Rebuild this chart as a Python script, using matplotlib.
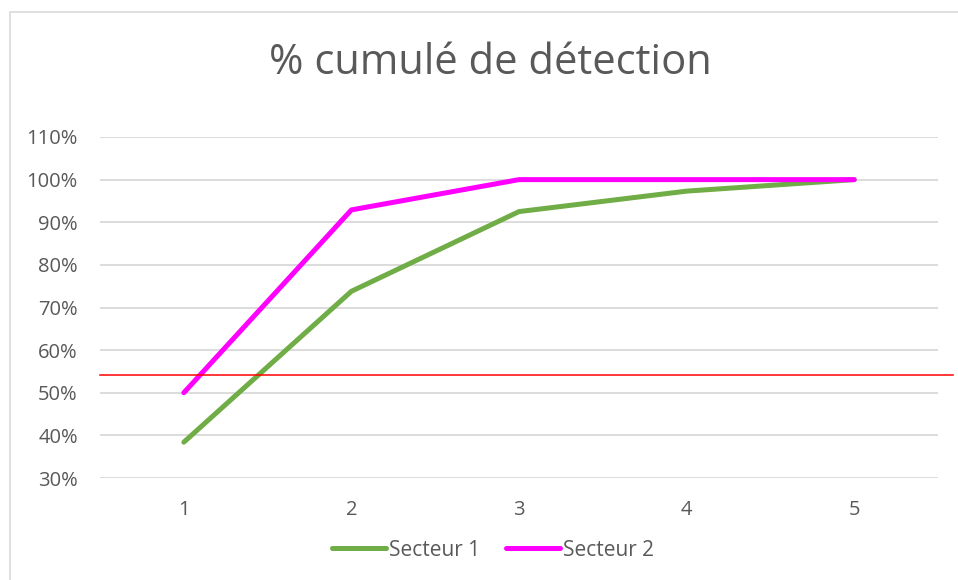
import matplotlib
matplotlib.use("Agg")
import matplotlib.pyplot as plt
from matplotlib.patches import Rectangle
from matplotlib.ticker import FuncFormatter

categories = ["1", "2", "3", "4", "5"]
secteur1 = [38.4, 73.8, 92.5, 97.3, 100.0]
secteur2 = [50.0, 92.9, 100.0, 100.0, 100.0]
seuil = 54.2
yticks = [30, 40, 50, 60, 70, 80, 90, 100, 110]

plt.rcParams['font.family'] = ['Open Sans', 'DejaVu Sans']
W, H = 958, 580
fig = plt.figure(figsize=(W / 100, H / 100), dpi=100)
fig.patch.set_facecolor("white")

# chart border
fig.add_artist(Rectangle((10 / W, -0.1), 1.2, (H - 12) / H + 0.1,
                         transform=fig.transFigure, fill=False,
                         edgecolor="#d9d9d9", linewidth=1.2))

left, right, top, bottom = 100, 938, 137, 478
ax = fig.add_axes([left / W, 1 - bottom / H, (right - left) / W, (bottom - top) / H])
x = list(range(len(categories)))
ax.set_xlim(-0.5, len(categories) - 0.5)
ax.set_ylim(30, 110)
ax.set_yticks(yticks)
ax.yaxis.set_major_formatter(FuncFormatter(lambda v, p: f"{int(v)}%"))
ax.set_xticks(x)
ax.set_xticklabels(categories)
ax.grid(axis="y", color="#d9d9d9", linewidth=1.3)
ax.set_axisbelow(True)
for s in ax.spines.values():
    s.set_visible(False)
ax.tick_params(length=0, labelsize=14.5, colors="#595959")
ax.tick_params(axis="y", pad=16)
ax.tick_params(axis="x", pad=16)

ax.plot(x, secteur1, color="#70AD47", lw=3.6, solid_capstyle="round",
        solid_joinstyle="round", label="Secteur 1", zorder=3)
ax.plot(x, secteur2, color="#FF00FF", lw=3.6, solid_capstyle="round",
        solid_joinstyle="round", label="Secteur 2", zorder=4)
ax.axhline(seuil, xmin=0, xmax=(953 - left) / (right - left), color="#FF0000",
           lw=1.1, clip_on=False, zorder=5)

fig.text(490 / W, 1 - 63 / H, "% cumulé de détection", ha="center", va="center",
         fontsize=30, color="#595959")

leg = fig.legend(loc="center", bbox_to_anchor=(493 / W, 1 - 550 / H), ncol=2,
                 frameon=False, fontsize=15, handlelength=2.6, handletextpad=0.15,
                 columnspacing=1.2)
for t in leg.get_texts():
    t.set_color("#595959")

fig.savefig("out.png", dpi=100)
